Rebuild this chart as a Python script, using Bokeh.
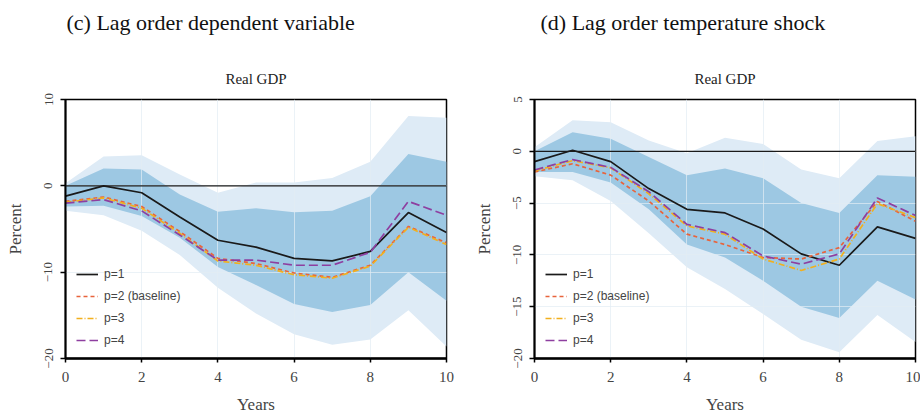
from bokeh.plotting import figure
from bokeh.models import Range1d, FixedTicker, Span, Title, Legend
from bokeh.layouts import row
from bokeh.embed import file_html
from bokeh.resources import INLINE

years = [0, 1, 2, 3, 4, 5, 6, 7, 8, 9, 10]
x_ticks = [0, 2, 4, 6, 8, 10]
labels = ["p=1", "p=2 (baseline)", "p=3", "p=4"]

# (c) Lag order dependent variable
c_p1 = [-1.2, 0.0, -0.8, -3.6, -6.3, -7.1, -8.4, -8.7, -7.6, -3.1, -5.4]
c_p2 = [-1.8, -1.3, -2.4, -5.3, -8.4, -9.0, -10.1, -10.6, -9.2, -4.7, -6.6]
c_p3 = [-1.9, -1.4, -2.6, -5.5, -8.7, -9.2, -10.3, -10.7, -9.3, -4.8, -6.8]
c_p4 = [-2.0, -1.6, -2.9, -5.7, -8.6, -8.6, -9.2, -9.2, -7.7, -1.8, -3.4]
c_hi90 = [0.3, 3.4, 3.55, 1.3, -0.8, 0.4, 0.4, 0.9, 2.8, 8.1, 7.9]
c_hi68 = [0.0, 2.0, 1.9, -1.0, -3.0, -2.6, -3.05, -2.9, -1.2, 3.7, 2.8]
c_lo68 = [-2.4, -2.3, -3.5, -6.0, -9.4, -11.5, -13.7, -14.6, -13.8, -10.0, -13.3]
c_lo90 = [-2.9, -3.4, -5.2, -8.0, -11.8, -14.8, -17.2, -18.4, -17.8, -14.4, -18.6]
c_yticks = [-20, -10, 0, 10]

# (d) Lag order temperature shock
d_p1 = [-1.0, 0.1, -1.0, -3.6, -5.6, -5.95, -7.5, -9.9, -11.0, -7.3, -8.4]
d_p2 = [-2.0, -1.2, -2.3, -4.8, -8.0, -9.0, -10.25, -10.4, -9.3, -4.85, -6.75]
d_p3 = [-1.9, -0.9, -1.6, -4.1, -7.2, -8.0, -10.4, -11.5, -10.4, -5.05, -6.4]
d_p4 = [-1.8, -0.8, -1.55, -3.9, -7.05, -7.85, -10.1, -10.9, -9.9, -4.5, -6.2]
d_hi90 = [0.4, 3.0, 2.8, 1.05, -0.2, 1.3, 0.7, -1.75, -2.6, 1.0, 1.45]
d_hi68 = [0.0, 1.85, 1.2, -0.55, -2.3, -1.65, -2.6, -5.0, -5.95, -2.3, -2.45]
d_lo68 = [-2.0, -2.0, -3.0, -5.6, -9.0, -10.25, -12.5, -15.0, -16.1, -12.5, -14.3]
d_lo90 = [-2.4, -2.8, -4.8, -7.9, -11.2, -13.3, -15.7, -18.2, -19.4, -15.8, -18.4]
d_yticks = [-20, -15, -10, -5, 0, 5]

SERIF = "Liberation Serif"
LIGHT = "#deebf6"
DARK = "#9dc8e3"
line_styles = [
    ("#1a1a1a", "solid"),
    ("#e8643c", "4 3"),
    ("#f2b01e", "6 2 1 2"),
    ("#8e3fa0", "9 4"),
]


def make(title, sub, ylo, yhi, yticks, series, bands, width, bl, br, toff):
    p = figure(width=width, height=416, x_range=Range1d(0, 10), y_range=Range1d(ylo, yhi),
               output_backend="svg", toolbar_location=None,
               min_border_left=bl, min_border_right=br, min_border_top=0, min_border_bottom=40)
    p.add_layout(Title(text=sub, align="center", text_font=SERIF, text_font_size="15px",
                       text_font_style="normal", text_color="#222222", standoff=26), "above")
    p.add_layout(Title(text=" ", text_font_size="6px", standoff=6), "above")
    p.add_layout(Title(text=title, align="left", offset=toff, text_font=SERIF, text_font_size="22px",
                       text_font_style="normal", text_color="#111111", standoff=14), "above")
    p.background_fill_color = "white"
    p.border_fill_color = "white"
    p.outline_line_color = "black"
    p.outline_line_width = 1.5

    hi90, hi68, lo68, lo90 = bands
    r1 = p.varea(x=years, y1=lo90, y2=hi90, fill_color=LIGHT)
    r2 = p.varea(x=years, y1=lo68, y2=hi68, fill_color=DARK)
    r1.level = "image"
    r2.level = "image"

    p.add_layout(Span(location=0, dimension="width", line_color="#1a1a1a", line_width=1.2))

    items = []
    for ys, lab, (col, dash) in zip(series, labels, line_styles):
        r = p.line(years, ys, line_color=col, line_dash=dash, line_width=1.7)
        items.append((lab, [r]))
    leg = Legend(items=items, location=(7, 6), background_fill_alpha=0, border_line_alpha=0,
                 label_text_font="Liberation Sans", label_text_font_size="12px",
                 glyph_width=22, glyph_height=16, label_height=16, spacing=6, padding=4,
                 label_standoff=6)
    p.add_layout(leg, "center")

    for g in (p.xgrid, p.ygrid):
        g.grid_line_color = "#e2edf3"
        g.grid_line_alpha = 0.7
        g.grid_line_width = 1
    p.xgrid.ticker = FixedTicker(ticks=x_ticks)
    p.ygrid.ticker = FixedTicker(ticks=yticks)

    xa = p.xaxis[0]
    xa.ticker = FixedTicker(ticks=x_ticks)
    xa.axis_label = "Years"
    xa.axis_line_width = 2.5
    xa.major_tick_out = 4
    xa.major_tick_in = 0
    xa.major_tick_line_width = 1.5
    xa.minor_tick_line_color = None
    xa.major_label_text_font = SERIF
    xa.major_label_text_font_size = "15px"
    xa.major_label_standoff = 9
    xa.axis_label_text_font = SERIF
    xa.axis_label_text_font_size = "17px"
    xa.axis_label_text_font_style = "normal"
    xa.axis_label_standoff = 10

    ya = p.yaxis[0]
    ya.ticker = FixedTicker(ticks=yticks)
    ya.axis_label = "Percent"
    ya.axis_line_width = 2
    ya.major_tick_out = 5
    ya.major_tick_in = 0
    ya.major_tick_line_width = 1.5
    ya.minor_tick_line_color = None
    ya.major_label_orientation = "parallel"
    ya.major_label_text_font = SERIF
    ya.major_label_text_font_size = "13px"
    ya.major_label_standoff = 8
    ya.axis_label_text_font = SERIF
    ya.axis_label_text_font_size = "17px"
    ya.axis_label_text_font_style = "normal"
    ya.axis_label_standoff = 17
    return p


p1 = make("(c) Lag order dependent variable", "Real GDP", -20, 10, c_yticks,
          [c_p1, c_p2, c_p3, c_p4], [c_hi90, c_hi68, c_lo68, c_lo90], 462, 65, 16, 1)
p2 = make("(d) Lag order temperature shock", "Real GDP", -20, 5, d_yticks,
          [d_p1, d_p2, d_p3, d_p4], [d_hi90, d_hi68, d_lo68, d_lo90], 458, 72, 5, 6)

layout = row(p1, p2, spacing=0)
open("out.html", "w").write(file_html(layout, INLINE))
